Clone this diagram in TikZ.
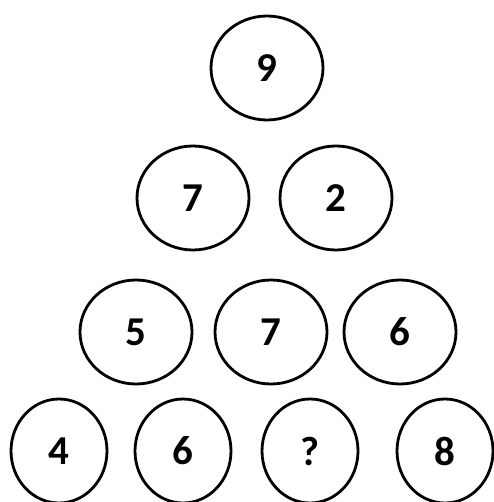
\documentclass[tikz,border=0pt]{standalone}
\usepackage{fontspec}
\setmainfont{Carlito}
\usetikzlibrary{shapes.geometric}

\begin{document}
\begin{tikzpicture}[
    x=1pt, y=-1pt,
    ball/.style={draw, ellipse, line width=2.8pt, inner sep=0pt,
                 minimum width=112pt, minimum height=104pt,
                 font=\fontsize{41}{48}\selectfont\bfseries},
    smallball/.style={ball, minimum width=96pt},
]
\useasboundingbox (0,0) rectangle (493,502);

% --- Row 1 ---
\node[ball] (top) at (267, 68) {9};

% --- Row 2 ---
\node[ball] (midA) at (193, 198) {7};
\node[ball] (midB) at (336, 198) {2};

% --- Row 3 ---
\node[ball] (lowA) at (136, 332) {5};
\node[ball] (lowB) at (271, 332) {7};
\node[ball] (lowC) at (400, 332) {6};

% --- Row 4 ---
\node[smallball] (baseA) at (59, 451) {4};
\node[smallball] (baseB) at (183, 451) {6};
\node[smallball] (baseC) at (310, 451) {?};
\node[smallball] (baseD) at (445, 451) {8};
\end{tikzpicture}
\end{document}
